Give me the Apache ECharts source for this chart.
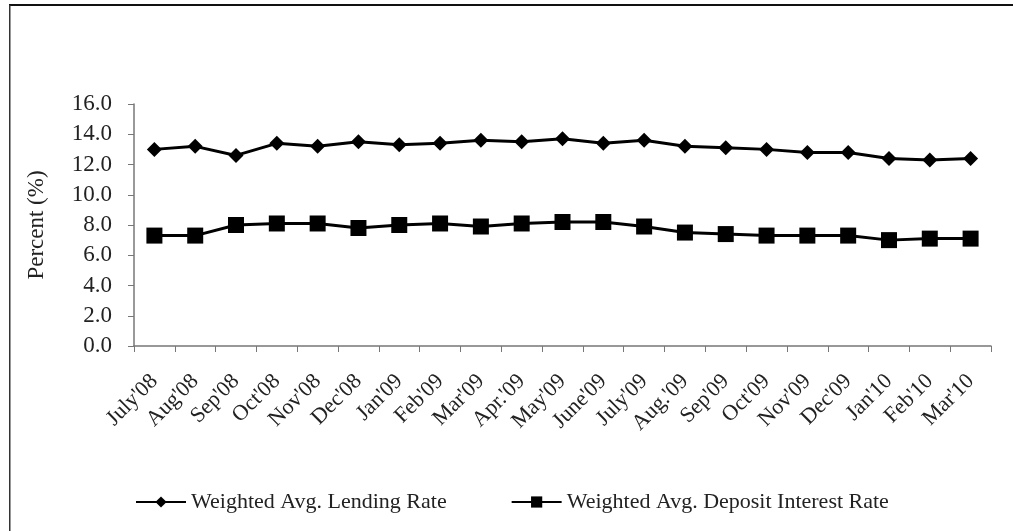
<!DOCTYPE html>
<html>
<head>
<meta charset="utf-8">
<script src="https://cdn.jsdelivr.net/npm/echarts@6/dist/echarts.min.js"></script>
<style>
  html, body { margin: 0; padding: 0; background: #ffffff; }
  #chart { width: 1013px; height: 531px; }
</style>
</head>
<body>
<div id="chart"></div>
<script>
// Monthly weighted average interest rates, July 2008 – March 2010
const months = ["July'08", "Aug'08", "Sep'08", "Oct'08", "Nov'08", "Dec'08", "Jan'09", "Feb'09",
  "Mar'09", "Apr.'09", "May'09", "June'09", "July'09", "Aug.'09", "Sep'09", "Oct'09", "Nov'09",
  "Dec'09", "Jan'10", "Feb'10", "Mar'10"];
const lendingRate = [13.0, 13.2, 12.6, 13.4, 13.2, 13.5, 13.3, 13.4, 13.6, 13.5, 13.7, 13.4,
  13.6, 13.2, 13.1, 13.0, 12.8, 12.8, 12.4, 12.3, 12.4];
const depositRate = [7.3, 7.3, 8.0, 8.1, 8.1, 7.8, 8.0, 8.1, 7.9, 8.1, 8.2, 8.2,
  7.9, 7.5, 7.4, 7.3, 7.3, 7.3, 7.0, 7.1, 7.1];
const yTicks = { min: 0, max: 16, step: 2 };

const serif = "'Liberation Serif', 'DejaVu Serif', serif";
const chart = echarts.init(document.getElementById('chart'), null, { renderer: 'canvas' });

chart.setOption({
  animation: false,
  backgroundColor: '#ffffff',
  textStyle: { fontFamily: serif, color: '#222' },
  graphic: [
    // frame edges
    { type: 'rect', shape: { x: 9, y: 4, width: 1004, height: 2 }, style: { fill: '#111' } },
    { type: 'rect', shape: { x: 9, y: 5, width: 1.5, height: 526 }, style: { fill: '#333' } }
  ],
  grid: { left: 134, right: 22, top: 104, bottom: 185 },
  legend: {
    top: 491,
    left: 135,
    padding: 0,
    itemWidth: 50,
    itemHeight: 14,
    itemGap: 64,
    textStyle: { fontFamily: serif, fontSize: 22, color: '#222' },
    data: ['Weighted Avg. Lending Rate', 'Weighted Avg. Deposit Interest Rate']
  },
  xAxis: {
    type: 'category',
    data: months,
    boundaryGap: true,
    axisLine: { lineStyle: { color: '#777', width: 1.5 } },
    axisTick: { show: true, length: 6, lineStyle: { color: '#777' } },
    axisLabel: {
      interval: 0,
      rotate: 45,
      margin: 32,
      fontFamily: serif,
      fontSize: 22,
      color: '#222'
    }
  },
  yAxis: {
    type: 'value',
    min: yTicks.min,
    max: yTicks.max,
    interval: yTicks.step,
    name: 'Percent (%)',
    nameLocation: 'middle',
    nameGap: 86,
    nameTextStyle: { fontFamily: serif, fontSize: 23, color: '#222' },
    splitLine: { show: false },
    axisLine: { show: true, lineStyle: { color: '#777', width: 1.5 } },
    axisTick: { show: true, length: 6, lineStyle: { color: '#777' } },
    axisLabel: {
      margin: 22,
      fontFamily: serif,
      fontSize: 23,
      color: '#222',
      formatter: v => v.toFixed(1)
    }
  },
  series: [
    {
      name: 'Weighted Avg. Lending Rate',
      type: 'line',
      data: lendingRate,
      symbol: 'diamond',
      symbolSize: 15,
      lineStyle: { color: '#000', width: 3 },
      itemStyle: { color: '#000' }
    },
    {
      name: 'Weighted Avg. Deposit Interest Rate',
      type: 'line',
      data: depositRate,
      symbol: 'rect',
      symbolSize: 16,
      lineStyle: { color: '#000', width: 3 },
      itemStyle: { color: '#000' }
    }
  ]
});
</script>
</body>
</html>
